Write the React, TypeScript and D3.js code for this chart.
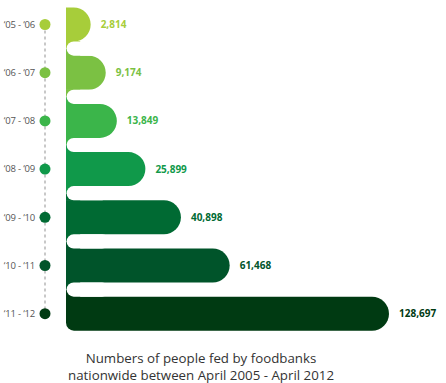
import React from "react";
import * as d3 from "d3";

const years = ["\u201805 - \u201806", "\u201806 - \u201807", "\u201807 - \u201808", "\u201808 - \u201809", "\u201809 - \u201810", "\u201810 - \u201811", "\u201811 - \u201812"];
const values = [2814, 9174, 13849, 25899, 40898, 61468, 128697];
const colors = ["#a7cd3a", "#7bc143", "#3bb54a", "#10994a", "#006a33", "#00542a", "#003a12"];
const caption = ["Numbers of people fed by foodbanks", "nationwide between April 2005 - April 2012"];

const W = 446;
const H = 383;
const X0 = 66;
const BAR_H = 34;
const GAP = 14.2;

export default function App() {
  const x = d3.scaleLinear().domain([0, d3.max(values) as number]).range([84, 389]);
  const y = d3.scaleLinear().domain([0, values.length - 1]).range([24.5, 313.7]);
  const r = BAR_H / 2;
  const n = values.length;
  const fmt = d3.format(",");

  const barPath = (i: number) => {
    const t = y(i) - r;
    const b = y(i) + r;
    const xr = x(values[i]);
    const p = d3.path();
    p.moveTo(X0, t);
    p.lineTo(xr - r, t);
    p.arc(xr - r, y(i), r, -Math.PI / 2, Math.PI / 2);
    if (i === n - 1) {
      const cr = 8;
      p.lineTo(X0 + cr, b);
      p.arcTo(X0, b, X0, b - cr, cr);
    } else {
      p.lineTo(X0, b);
    }
    p.closePath();
    return p.toString();
  };

  return (
    <svg width={W} height={H} style={{ position: "absolute", left: 0, top: 0 }} fontFamily="'Open Sans', sans-serif">
      <rect width={W} height={H} fill="#fff" />
      <line x1={45} x2={45} y1={y(0)} y2={y(n - 1)} stroke="#c8c8c8" strokeWidth={2} strokeDasharray="3,3" />
      {values.map((v, i) => (
        <g key={i}>
          <circle cx={45} cy={y(i)} r={5.5} fill={colors[i]} />
          <text x={35} y={y(i)} dy="0.35em" textAnchor="end" fontSize={9.5} letterSpacing={-0.2} fill="#555">{years[i]}</text>
        </g>
      ))}
      {values.slice(0, n - 1).map((v, i) => {
        const b = y(i) + r;
        const t2 = y(i + 1) - r;
        const mid = (b + t2) / 2;
        return (
          <g key={"ext" + i}>
            <rect x={X0} y={b - 0.5} width={GAP} height={mid - b + 0.5} fill={colors[i]} />
            <rect x={X0} y={mid} width={GAP} height={t2 - mid + 0.5} fill={colors[i + 1]} />
          </g>
        );
      })}
      {values.map((v, i) => (
        <path key={"bar" + i} d={barPath(i)} fill={colors[i]} />
      ))}
      {values.slice(0, n - 1).map((v, i) => {
        const b = y(i) + r;
        const t2 = y(i + 1) - r;
        const g = t2 - b;
        return <rect key={"notch" + i} x={X0 + 0.6} y={b} width={g * 3} height={g} rx={g / 2} fill="#fff" />;
      })}
      {values.map((v, i) => (
        <text key={"val" + i} x={x(v) + 10} y={y(i)} dy="0.35em" fontSize={10} fontWeight="bold" fill={colors[i]}>
          {fmt(v)}
        </text>
      ))}
      {caption.map((c, i) => (
        <text key={"cap" + i} x={201} y={363 + i * 17} textAnchor="middle" fontSize={13.3} fill="#333">{c}</text>
      ))}
    </svg>
  );
}
